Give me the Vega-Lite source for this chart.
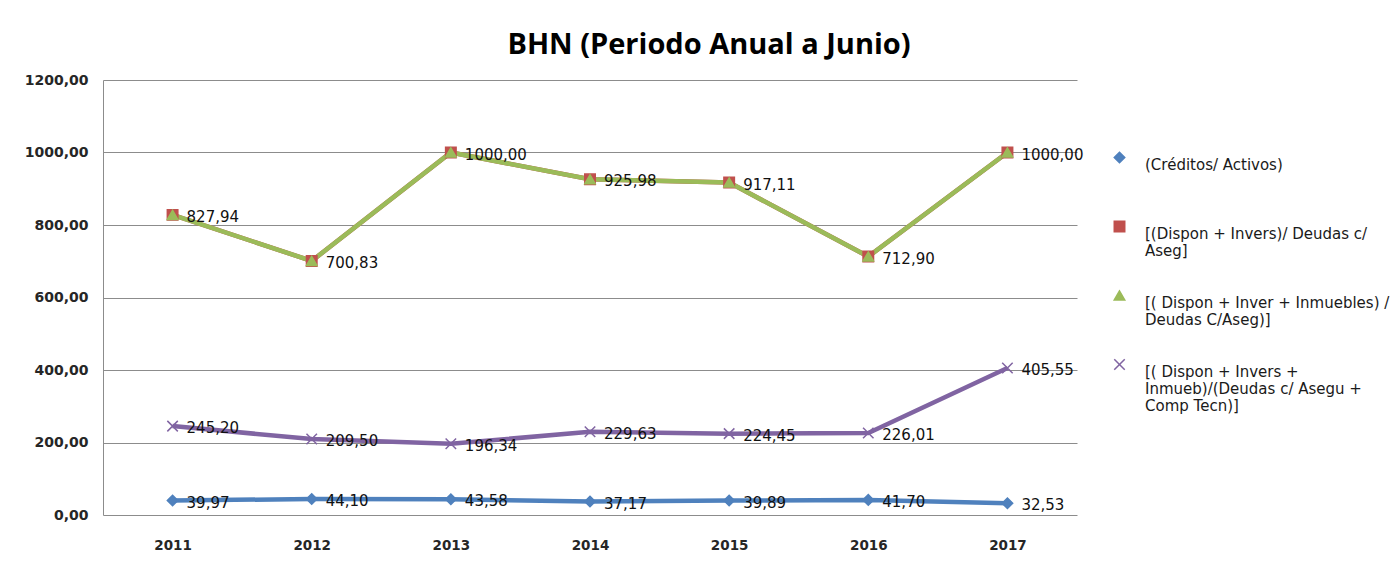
{
  "$schema": "https://vega.github.io/schema/vega-lite/v6.json",
  "width": 974,
  "height": 435,
  "autosize": {"type": "none"},
  "padding": {"left": 103, "top": 80, "right": 320, "bottom": 54},
  "background": "white",
  "config": {
    "locale": {"number": {"decimal": ",", "thousands": ".", "grouping": [3], "currency": ["", ""]}},
    "view": {"stroke": null},
    "font": "DejaVu Sans"
  },
  "title": {
    "text": "BHN (Periodo Anual a Junio)",
    "font": "Open Sans",
    "fontSize": 29,
    "fontWeight": "bold",
    "color": "#000000",
    "anchor": "middle",
    "frame": "group",
    "dx": 119,
    "offset": 13
  },
  "data": {
    "values": [
      {"anio": "2011", "serie": "(Créditos/ Activos)", "valor": 39.97},
      {"anio": "2012", "serie": "(Créditos/ Activos)", "valor": 44.10},
      {"anio": "2013", "serie": "(Créditos/ Activos)", "valor": 43.58},
      {"anio": "2014", "serie": "(Créditos/ Activos)", "valor": 37.17},
      {"anio": "2015", "serie": "(Créditos/ Activos)", "valor": 39.89},
      {"anio": "2016", "serie": "(Créditos/ Activos)", "valor": 41.70},
      {"anio": "2017", "serie": "(Créditos/ Activos)", "valor": 32.53},
      {"anio": "2011", "serie": "[(Dispon + Invers)/ Deudas c/ Aseg]", "valor": 827.94},
      {"anio": "2012", "serie": "[(Dispon + Invers)/ Deudas c/ Aseg]", "valor": 700.83},
      {"anio": "2013", "serie": "[(Dispon + Invers)/ Deudas c/ Aseg]", "valor": 1000.00},
      {"anio": "2014", "serie": "[(Dispon + Invers)/ Deudas c/ Aseg]", "valor": 925.98},
      {"anio": "2015", "serie": "[(Dispon + Invers)/ Deudas c/ Aseg]", "valor": 917.11},
      {"anio": "2016", "serie": "[(Dispon + Invers)/ Deudas c/ Aseg]", "valor": 712.90},
      {"anio": "2017", "serie": "[(Dispon + Invers)/ Deudas c/ Aseg]", "valor": 1000.00},
      {"anio": "2011", "serie": "[( Dispon  + Inver + Inmuebles) / Deudas C/Aseg)]", "valor": 827.94},
      {"anio": "2012", "serie": "[( Dispon  + Inver + Inmuebles) / Deudas C/Aseg)]", "valor": 700.83},
      {"anio": "2013", "serie": "[( Dispon  + Inver + Inmuebles) / Deudas C/Aseg)]", "valor": 1000.00},
      {"anio": "2014", "serie": "[( Dispon  + Inver + Inmuebles) / Deudas C/Aseg)]", "valor": 925.98},
      {"anio": "2015", "serie": "[( Dispon  + Inver + Inmuebles) / Deudas C/Aseg)]", "valor": 917.11},
      {"anio": "2016", "serie": "[( Dispon  + Inver + Inmuebles) / Deudas C/Aseg)]", "valor": 712.90},
      {"anio": "2017", "serie": "[( Dispon  + Inver + Inmuebles) / Deudas C/Aseg)]", "valor": 1000.00},
      {"anio": "2011", "serie": "[( Dispon  + Invers + Inmueb)/(Deudas c/ Asegu + Comp Tecn)]", "valor": 245.20},
      {"anio": "2012", "serie": "[( Dispon  + Invers + Inmueb)/(Deudas c/ Asegu + Comp Tecn)]", "valor": 209.50},
      {"anio": "2013", "serie": "[( Dispon  + Invers + Inmueb)/(Deudas c/ Asegu + Comp Tecn)]", "valor": 196.34},
      {"anio": "2014", "serie": "[( Dispon  + Invers + Inmueb)/(Deudas c/ Asegu + Comp Tecn)]", "valor": 229.63},
      {"anio": "2015", "serie": "[( Dispon  + Invers + Inmueb)/(Deudas c/ Asegu + Comp Tecn)]", "valor": 224.45},
      {"anio": "2016", "serie": "[( Dispon  + Invers + Inmueb)/(Deudas c/ Asegu + Comp Tecn)]", "valor": 226.01},
      {"anio": "2017", "serie": "[( Dispon  + Invers + Inmueb)/(Deudas c/ Asegu + Comp Tecn)]", "valor": 405.55}
    ]
  },
  "encoding": {
    "x": {
      "field": "anio",
      "type": "ordinal",
      "scale": {"padding": 0.5},
      "axis": {
        "title": null,
        "labelAngle": 0,
        "labelFont": "DejaVu Sans",
        "labelFontSize": 13.5,
        "labelFontWeight": "bold",
        "labelColor": "#262626",
        "ticks": false,
        "domain": false,
        "labelPadding": 23
      }
    },
    "y": {
      "field": "valor",
      "type": "quantitative",
      "scale": {"domain": [0, 1200]},
      "axis": {
        "title": null,
        "values": [0, 200, 400, 600, 800, 1000, 1200],
        "format": ".2f",
        "labelFont": "DejaVu Sans",
        "labelFontSize": 14,
        "labelFontWeight": "bold",
        "labelColor": "#262626",
        "ticks": false,
        "domain": true,
        "domainColor": "#8c8c8c",
        "gridColor": "#8c8c8c",
        "gridOpacity": 1,
        "labelPadding": 15
      }
    },
    "color": {
      "field": "serie",
      "type": "nominal",
      "scale": {
        "domain": [
          "(Créditos/ Activos)",
          "[(Dispon + Invers)/ Deudas c/ Aseg]",
          "[( Dispon  + Inver + Inmuebles) / Deudas C/Aseg)]",
          "[( Dispon  + Invers + Inmueb)/(Deudas c/ Asegu + Comp Tecn)]"
        ],
        "range": ["#4F81BD", "#C0504D", "#9BBB59", "#8064A2"]
      },
      "legend": {
        "title": null,
        "orient": "none",
        "legendX": 1009,
        "legendY": 70,
        "padding": 0,
        "symbolSize": 110,
        "symbolStrokeWidth": 1.5,
        "labelOffset": 18,
        "labelFont": "DejaVu Sans",
        "labelFontSize": 15,
        "labelColor": "#1a1a1a",
        "labelLineHeight": 22,
        "labelLimit": 300,
        "rowPadding": 11,
        "labelBaseline": "top",
        "labelExpr": "datum.value == '(Créditos/ Activos)' ? ['(Créditos/ Activos)','',''] : datum.value == '[(Dispon + Invers)/ Deudas c/ Aseg]' ? ['[(Dispon + Invers)/ Deudas c/','Aseg]',''] : datum.value == '[( Dispon  + Inver + Inmuebles) / Deudas C/Aseg)]' ? ['[( Dispon  + Inver + Inmuebles) /','Deudas C/Aseg)]',''] : ['[( Dispon  + Invers +','Inmueb)/(Deudas c/ Asegu +','Comp Tecn)]']"
      }
    }
  },
  "layer": [
    {
      "mark": {"type": "line", "strokeWidth": 4.5},
      "encoding": {}
    },
    {
      "mark": {"type": "point", "filled": false, "opacity": 1, "size": 110, "strokeWidth": 1.5},
      "encoding": {
        "shape": {
          "field": "serie",
          "type": "nominal",
          "scale": {
            "domain": [
              "(Créditos/ Activos)",
              "[(Dispon + Invers)/ Deudas c/ Aseg]",
              "[( Dispon  + Inver + Inmuebles) / Deudas C/Aseg)]",
              "[( Dispon  + Invers + Inmueb)/(Deudas c/ Asegu + Comp Tecn)]"
            ],
            "range": ["diamond", "square", "triangle-up", "M-1,-1L1,1M-1,1L1,-1"]
          },
          "legend": null
        },
        "fill": {
          "field": "serie",
          "type": "nominal",
          "scale": {
            "domain": [
              "(Créditos/ Activos)",
              "[(Dispon + Invers)/ Deudas c/ Aseg]",
              "[( Dispon  + Inver + Inmuebles) / Deudas C/Aseg)]",
              "[( Dispon  + Invers + Inmueb)/(Deudas c/ Asegu + Comp Tecn)]"
            ],
            "range": ["#4F81BD", "#C0504D", "#9BBB59", "#8064A2"]
          },
          "legend": null
        }
      }
    },
    {
      "transform": [{"filter": "datum.serie != '[(Dispon + Invers)/ Deudas c/ Aseg]'"}],
      "mark": {"type": "text", "align": "left", "baseline": "middle", "dx": 14, "dy": 2, "font": "DejaVu Sans", "fontSize": 15, "color": "#111111"},
      "encoding": {
        "text": {"field": "valor", "type": "quantitative", "format": ".2f"},
        "color": {"value": "#111111"}
      }
    }
  ]
}
